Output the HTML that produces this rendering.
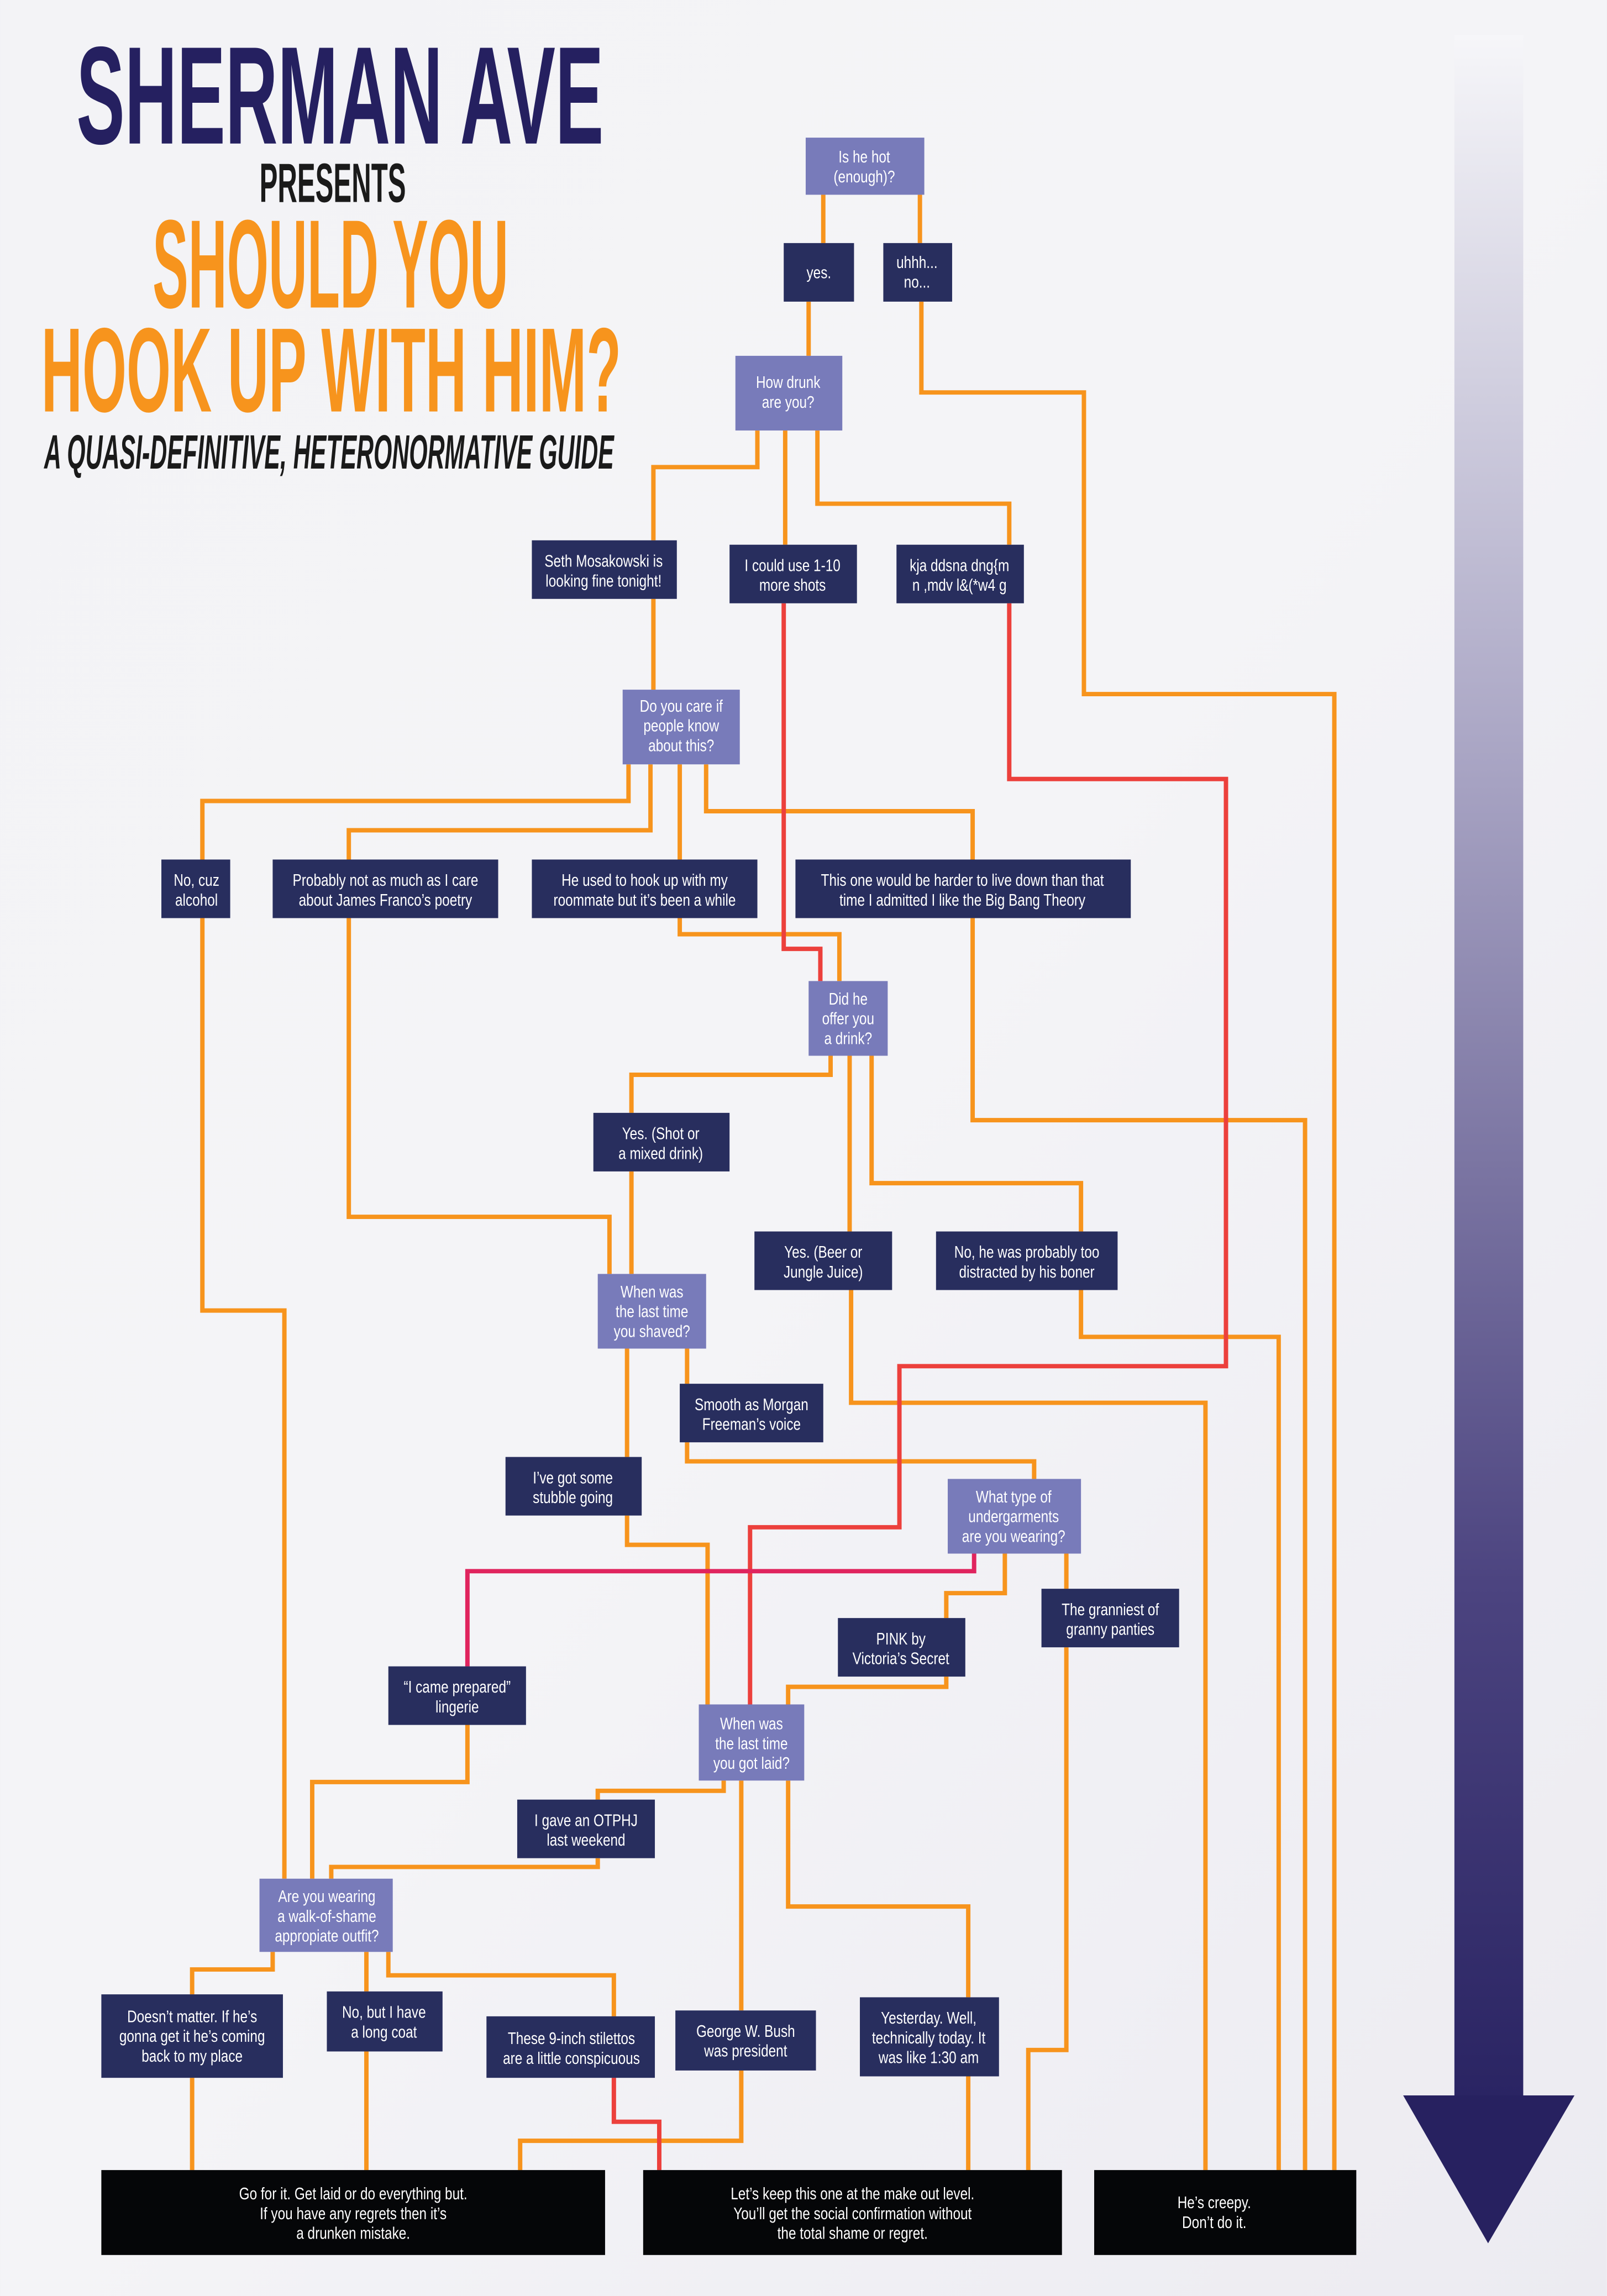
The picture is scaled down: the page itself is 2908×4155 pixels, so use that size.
<!DOCTYPE html>
<html><head><meta charset="utf-8"><style>
html,body{margin:0;padding:0;width:2908px;height:4155px;overflow:hidden;background:#f2f1f5}
svg{display:block}
.n text{font-family:"Liberation Sans Narrow","Liberation Sans",sans-serif;font-size:11.5px;fill:#fff;text-anchor:middle;transform-box:fill-box;transform-origin:center;transform:scaleX(0.8)}
.t{font-family:"Liberation Sans Narrow","Liberation Sans",sans-serif;font-weight:bold}
</style></head><body>
<svg width="2908" height="4155" viewBox="0 0 1097 1568" xmlns="http://www.w3.org/2000/svg">
<defs>
<linearGradient id="bg" x1="0" y1="0" x2="1" y2="1"><stop offset="0" stop-color="#f3f3f6"/><stop offset="0.5" stop-color="#f4f4f7"/><stop offset="1" stop-color="#ecebf1"/></linearGradient>
<linearGradient id="sh" x1="0" y1="0" x2="0" y2="1"><stop offset="0" stop-color="#f6f6f9"/><stop offset="0.35" stop-color="#a9a5c4"/><stop offset="0.75" stop-color="#4c4480"/><stop offset="1" stop-color="#2a2463"/></linearGradient>
</defs>
<rect width="1097" height="1568" fill="url(#bg)"/>
<rect x="993" y="24" width="47" height="1408" fill="url(#sh)"/>
<polygon points="958,1431 1075,1431 1016,1532" fill="#272160"/>
<text class="t" x="52" y="98" font-size="95" textLength="360" lengthAdjust="spacingAndGlyphs" fill="#252060">SHERMAN AVE</text>
<text class="t" x="177" y="138" font-size="38" textLength="100" lengthAdjust="spacingAndGlyphs" fill="#1a1a1a">PRESENTS</text>
<text class="t" x="104" y="210" font-size="86" textLength="243" lengthAdjust="spacingAndGlyphs" fill="#f7941d">SHOULD YOU</text>
<text class="t" x="28" y="281" font-size="82" textLength="396" lengthAdjust="spacingAndGlyphs" fill="#f7941d">HOOK UP WITH HIM?</text>
<text class="t" x="30" y="320" font-size="33" font-style="italic" textLength="389" lengthAdjust="spacingAndGlyphs" fill="#1a1a1a">A QUASI-DEFINITIVE, HETERONORMATIVE GUIDE</text>
<g fill="none" stroke="#f7941d" stroke-width="3" stroke-linejoin="miter">
<polyline points="562,133 562,166"/>
<polyline points="628,133 628,166"/>
<polyline points="552,206 552,243"/>
<polyline points="629,206 629,268 740,268 740,474 911,474 911,1482"/>
<polyline points="517,294 517,319 446,319 446,369"/>
<polyline points="536,294 536,372"/>
<polyline points="558,294 558,344 689,344 689,372"/>
<polyline points="446,409 446,471"/>
<polyline points="429,522 429,547 138,547 138,587"/>
<polyline points="444,522 444,567 238,567 238,587"/>
<polyline points="464,522 464,587"/>
<polyline points="482,522 482,554 664,554 664,587"/>
<polyline points="464,627 464,638 573,638 573,670"/>
<polyline points="567,721 567,734 431,734 431,760"/>
<polyline points="580,721 580,841"/>
<polyline points="595,721 595,808 738,808 738,841"/>
<polyline points="664,627 664,765 891,765 891,1482"/>
<polyline points="138,627 138,895 194,895 194,1283"/>
<polyline points="238,627 238,831 416,831 416,870"/>
<polyline points="431,800 431,870"/>
<polyline points="738,881 738,913 873,913 873,1482"/>
<polyline points="581,881 581,958 823,958 823,1482"/>
<polyline points="469,921 469,945"/>
<polyline points="428,921 428,995"/>
<polyline points="469,985 469,998 706,998 706,1010"/>
<polyline points="428,1035 428,1055 483,1055 483,1164"/>
<polyline points="686,1061 686,1088 646,1088 646,1105"/>
<polyline points="728,1061 728,1085"/>
<polyline points="728,1125 728,1400 702,1400 702,1482"/>
<polyline points="646,1145 646,1152 538,1152 538,1164"/>
<polyline points="319,1178 319,1217 213,1217 213,1283"/>
<polyline points="494,1216 494,1223 408,1223 408,1229"/>
<polyline points="408,1269 408,1275 226,1275 226,1283"/>
<polyline points="506,1216 506,1373"/>
<polyline points="506,1414 506,1462 355,1462 355,1482"/>
<polyline points="538,1216 538,1302 661,1302 661,1364"/>
<polyline points="661,1418 661,1482"/>
<polyline points="186,1333 186,1345 131,1345 131,1362"/>
<polyline points="250,1333 250,1360"/>
<polyline points="265,1333 265,1349 419,1349 419,1377"/>
<polyline points="131,1419 131,1482"/>
<polyline points="250,1401 250,1482"/>
</g>
<g fill="none" stroke="#ec403c" stroke-width="3">
<polyline points="535,412 535,648 560,648 560,670"/>
<polyline points="689,412 689,532 837,532 837,933 614,933 614,1043 512,1043 512,1164"/>
<polyline points="419,1419 419,1449 450,1449 450,1482"/>
</g>
<polyline points="665,1061 665,1073 319,1073 319,1138" fill="none" stroke="#e0245e" stroke-width="3"/>
<g fill="#787bba">
<rect x="550" y="94" width="81" height="39"/>
<rect x="502" y="243" width="73" height="51"/>
<rect x="425" y="471" width="80" height="51"/>
<rect x="552" y="670" width="54" height="51"/>
<rect x="408" y="870" width="74" height="51"/>
<rect x="647" y="1010" width="91" height="51"/>
<rect x="477" y="1164" width="72" height="52"/>
<rect x="177" y="1283" width="91" height="50"/>
</g>
<g fill="#282e5e">
<rect x="535" y="166" width="48" height="40"/>
<rect x="603" y="166" width="47" height="40"/>
<rect x="363" y="369" width="99" height="40"/>
<rect x="498" y="372" width="87" height="40"/>
<rect x="612" y="372" width="87" height="40"/>
<rect x="110" y="587" width="47" height="40"/>
<rect x="186" y="587" width="154" height="40"/>
<rect x="363" y="587" width="154" height="40"/>
<rect x="543" y="587" width="229" height="40"/>
<rect x="405" y="760" width="93" height="40"/>
<rect x="515" y="841" width="94" height="40"/>
<rect x="639" y="841" width="124" height="40"/>
<rect x="464" y="945" width="98" height="40"/>
<rect x="345" y="995" width="93" height="40"/>
<rect x="711" y="1085" width="94" height="40"/>
<rect x="572" y="1105" width="87" height="40"/>
<rect x="265" y="1138" width="94" height="40"/>
<rect x="353" y="1229" width="94" height="40"/>
<rect x="69" y="1362" width="124" height="57"/>
<rect x="223" y="1360" width="79" height="41"/>
<rect x="332" y="1377" width="115" height="42"/>
<rect x="461" y="1373" width="96" height="41"/>
<rect x="587" y="1364" width="95" height="54"/>
</g>
<g fill="#050608">
<rect x="69" y="1482" width="344" height="58"/>
<rect x="439" y="1482" width="286" height="58"/>
<rect x="747" y="1482" width="179" height="58"/>
</g>
<g class="n">
<text x="590" y="111">Is he hot<tspan x="590" dy="13.5">(enough)?</tspan></text>
<text x="559" y="190">yes.</text>
<text x="626" y="183">uhhh...<tspan x="626" dy="13.5">no...</tspan></text>
<text x="538" y="265">How drunk<tspan x="538" dy="13.5">are you?</tspan></text>
<text x="412" y="387">Seth Mosakowski is<tspan x="412" dy="13.5">looking fine tonight!</tspan></text>
<text x="541" y="390">I could use 1-10<tspan x="541" dy="13.5">more shots</tspan></text>
<text x="655" y="390">kja ddsna dng{m<tspan x="655" dy="13.5">n ,mdv l&amp;(*w4 g</tspan></text>
<text x="465" y="486">Do you care if<tspan x="465" dy="13.5">people know</tspan><tspan x="465" dy="13.5">about this?</tspan></text>
<text x="134" y="605">No, cuz<tspan x="134" dy="13.5">alcohol</tspan></text>
<text x="263" y="605">Probably not as much as I care<tspan x="263" dy="13.5">about James Franco’s poetry</tspan></text>
<text x="440" y="605">He used to hook up with my<tspan x="440" dy="13.5">roommate but it’s been a while</tspan></text>
<text x="657" y="605">This one would be harder to live down than that<tspan x="657" dy="13.5">time I admitted I like the Big Bang Theory</tspan></text>
<text x="579" y="686">Did he<tspan x="579" dy="13.5">offer you</tspan><tspan x="579" dy="13.5">a drink?</tspan></text>
<text x="451" y="778">Yes. (Shot or<tspan x="451" dy="13.5">a mixed drink)</tspan></text>
<text x="562" y="859">Yes. (Beer or<tspan x="562" dy="13.5">Jungle Juice)</tspan></text>
<text x="701" y="859">No, he was probably too<tspan x="701" dy="13.5">distracted by his boner</tspan></text>
<text x="445" y="886">When was<tspan x="445" dy="13.5">the last time</tspan><tspan x="445" dy="13.5">you shaved?</tspan></text>
<text x="513" y="963">Smooth as Morgan<tspan x="513" dy="13.5">Freeman’s voice</tspan></text>
<text x="391" y="1013">I’ve got some<tspan x="391" dy="13.5">stubble going</tspan></text>
<text x="692" y="1026">What type of<tspan x="692" dy="13.5">undergarments</tspan><tspan x="692" dy="13.5">are you wearing?</tspan></text>
<text x="758" y="1103">The granniest of<tspan x="758" dy="13.5">granny panties</tspan></text>
<text x="615" y="1123">PINK by<tspan x="615" dy="13.5">Victoria’s Secret</tspan></text>
<text x="312" y="1156">“I came prepared”<tspan x="312" dy="13.5">lingerie</tspan></text>
<text x="513" y="1181">When was<tspan x="513" dy="13.5">the last time</tspan><tspan x="513" dy="13.5">you got laid?</tspan></text>
<text x="400" y="1247">I gave an OTPHJ<tspan x="400" dy="13.5">last weekend</tspan></text>
<text x="223" y="1299">Are you wearing<tspan x="223" dy="13.5">a walk-of-shame</tspan><tspan x="223" dy="13.5">appropiate outfit?</tspan></text>
<text x="131" y="1381">Doesn’t matter. If he’s<tspan x="131" dy="13.5">gonna get it he’s coming</tspan><tspan x="131" dy="13.5">back to my place</tspan></text>
<text x="262" y="1378">No, but I have<tspan x="262" dy="13.5">a long coat</tspan></text>
<text x="390" y="1396">These 9-inch stilettos<tspan x="390" dy="13.5">are a little conspicuous</tspan></text>
<text x="509" y="1391">George W. Bush<tspan x="509" dy="13.5">was president</tspan></text>
<text x="634" y="1382">Yesterday. Well,<tspan x="634" dy="13.5">technically today. It</tspan><tspan x="634" dy="13.5">was like 1:30 am</tspan></text>
<text x="241" y="1502">Go for it. Get laid or do everything but.<tspan x="241" dy="13.5">If you have any regrets then it’s</tspan><tspan x="241" dy="13.5">a drunken mistake.</tspan></text>
<text x="582" y="1502">Let’s keep this one at the make out level.<tspan x="582" dy="13.5">You’ll get the social confirmation without</tspan><tspan x="582" dy="13.5">the total shame or regret.</tspan></text>
<text x="829" y="1508">He’s creepy.<tspan x="829" dy="13.5">Don’t do it.</tspan></text>
</g>
</svg>
</body></html>
